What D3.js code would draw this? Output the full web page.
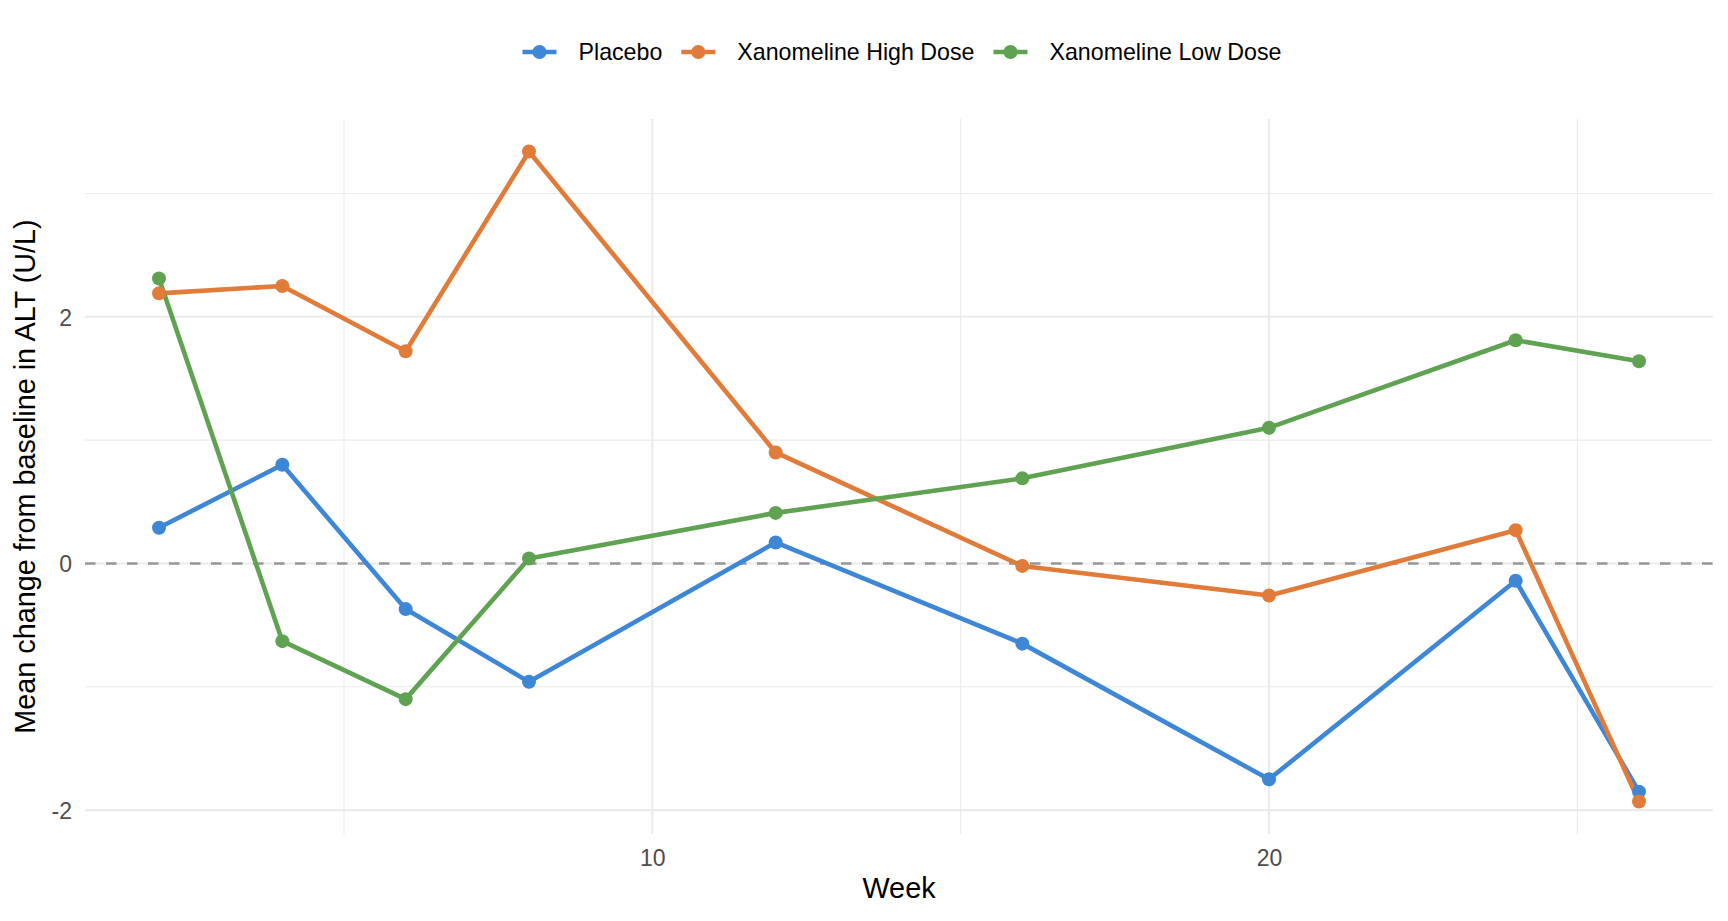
<!DOCTYPE html>
<html lang="en">
<head>
<meta charset="UTF-8">
<title>Mean change from baseline in ALT</title>
<script src="https://d3js.org/d3.v7.min.js"></script>
<style>
  body { margin: 0; background: #fff; }
  svg text { font-family: "Liberation Sans", Arial, Helvetica, sans-serif; }
  .tick text { fill: #4d4d4d; font-size: 23px; }
  .grid-major { stroke: #ebebeb; stroke-width: 2.1; }
  .grid-minor { stroke: #ebebeb; stroke-width: 1.1; }
  .series { fill: none; stroke-width: 4.6; stroke-linejoin: round; }
</style>
</head>
<body>
<script>
// chart data
var weeks = [2, 4, 6, 8, 12, 16, 20, 24, 26];
var groups = ["Placebo", "Xanomeline High Dose", "Xanomeline Low Dose"];
var placebo = [0.29, 0.80, -0.37, -0.96, 0.17, -0.65, -1.75, -0.14, -1.85];
var highDose = [2.19, 2.25, 1.72, 3.34, 0.90, -0.02, -0.26, 0.27, -1.93];
var lowDose = [2.31, -0.63, -1.10, 0.04, 0.41, 0.69, 1.10, 1.81, 1.64];
var colors = ["#3d87d6", "#e07b39", "#5fa352"];

// breaks
var xMajor = [10, 20], xMinor = [5, 15, 25];
var yMajor = [-2, 0, 2], yMinor = [-1, 1, 3];

var width = 1728, height = 921;
var panel = { left: 85, right: 1713, top: 119, bottom: 834 };

var svg = d3.select("body").append("svg")
    .attr("width", width)
    .attr("height", height);

var series = groups.map(function(g, i) {
    var vals = [placebo, highDose, lowDose][i];
    return { name: g, color: colors[i], values: weeks.map(function(w, j) { return { week: w, value: vals[j] }; }) };
});

// ggplot-like 5% expansion
var xExt = d3.extent(weeks);
var xPad = (xExt[1] - xExt[0]) * 0.05;
var allVals = placebo.concat(highDose, lowDose);
var yExt = d3.extent(allVals);
var yPad = (yExt[1] - yExt[0]) * 0.05;

var x = d3.scaleLinear()
    .domain([xExt[0] - xPad, xExt[1] + xPad])
    .range([panel.left, panel.right]);
var y = d3.scaleLinear()
    .domain([yExt[0] - yPad, yExt[1] + yPad])
    .range([panel.bottom, panel.top]);

// grid
var grid = svg.append("g");
grid.selectAll(".ymin").data(yMinor).enter().append("line")
    .attr("class", "grid-minor")
    .attr("x1", panel.left).attr("x2", panel.right)
    .attr("y1", function(d) { return y(d); }).attr("y2", function(d) { return y(d); });
grid.selectAll(".xmin").data(xMinor).enter().append("line")
    .attr("class", "grid-minor")
    .attr("y1", panel.top).attr("y2", panel.bottom)
    .attr("x1", function(d) { return x(d); }).attr("x2", function(d) { return x(d); });
grid.selectAll(".ymaj").data(yMajor).enter().append("line")
    .attr("class", "grid-major")
    .attr("x1", panel.left).attr("x2", panel.right)
    .attr("y1", function(d) { return y(d); }).attr("y2", function(d) { return y(d); });
grid.selectAll(".xmaj").data(xMajor).enter().append("line")
    .attr("class", "grid-major")
    .attr("y1", panel.top).attr("y2", panel.bottom)
    .attr("x1", function(d) { return x(d); }).attr("x2", function(d) { return x(d); });

// zero reference line
svg.append("line")
    .attr("x1", panel.left).attr("x2", panel.right)
    .attr("y1", y(0)).attr("y2", y(0))
    .attr("stroke", "#969696")
    .attr("stroke-width", 2.6)
    .attr("stroke-dasharray", "10.5,10.5");

// axes (labels only), plain hyphen for negatives like R does
var fmt = function(d) { return String(d); };

var xAxis = svg.append("g")
    .attr("transform", "translate(0," + (panel.bottom + 14) + ")")
    .call(d3.axisBottom(x).tickValues(xMajor).tickSize(0).tickPadding(0).tickFormat(fmt));
xAxis.select(".domain").remove();
xAxis.selectAll("text").attr("dy", null).attr("y", 18);

var yAxis = svg.append("g")
    .attr("transform", "translate(" + (panel.left - 13) + ",0)")
    .call(d3.axisLeft(y).tickValues(yMajor).tickSize(0).tickPadding(0).tickFormat(fmt));
yAxis.select(".domain").remove();
yAxis.selectAll("text").attr("dy", "0.36em");

// lines then points
var line = d3.line()
    .x(function(d) { return x(d.week); })
    .y(function(d) { return y(d.value); });

svg.selectAll(".series").data(series).enter().append("path")
    .attr("class", "series")
    .attr("stroke", function(d) { return d.color; })
    .attr("d", function(d) { return line(d.values); });

series.forEach(function(s) {
    svg.append("g").selectAll("circle").data(s.values).enter().append("circle")
        .attr("cx", function(d) { return x(d.week); })
        .attr("cy", function(d) { return y(d.value); })
        .attr("r", 7)
        .attr("fill", s.color);
});

// axis titles
svg.append("text")
    .attr("x", (panel.left + panel.right) / 2)
    .attr("y", 898)
    .attr("text-anchor", "middle")
    .style("font-size", "28.8px")
    .attr("fill", "#000")
    .text("Week");

svg.append("text")
    .attr("transform", "translate(35," + ((panel.top + panel.bottom) / 2) + ") rotate(-90)")
    .attr("text-anchor", "middle")
    .style("font-size", "28.8px")
    .attr("fill", "#000")
    .text("Mean change from baseline in ALT (U/L)");

// legend
var legend = svg.append("g");
var keyW = 34, keyGap = 22, itemGap = 19, legendY = 52;
var cursor = 0;
series.forEach(function(s) {
    var g = legend.append("g");
    g.append("line")
        .attr("x1", 0).attr("x2", keyW)
        .attr("y1", 0).attr("y2", 0)
        .attr("stroke", s.color).attr("stroke-width", 4.6);
    g.append("circle").attr("cx", keyW / 2).attr("cy", 0).attr("r", 7).attr("fill", s.color);
    var t = g.append("text")
        .attr("x", keyW + keyGap)
        .attr("y", 0)
        .attr("dy", "0.36em")
        .style("font-size", "23.2px")
        .attr("fill", "#000")
        .text(s.name);
    var w = keyW + keyGap + t.node().getComputedTextLength();
    g.attr("transform", "translate(" + cursor + ",0)");
    cursor += w + itemGap;
});
var totalW = cursor - itemGap;
legend.attr("transform", "translate(" + (902 - totalW / 2) + "," + legendY + ")");
</script>
</body>
</html>
